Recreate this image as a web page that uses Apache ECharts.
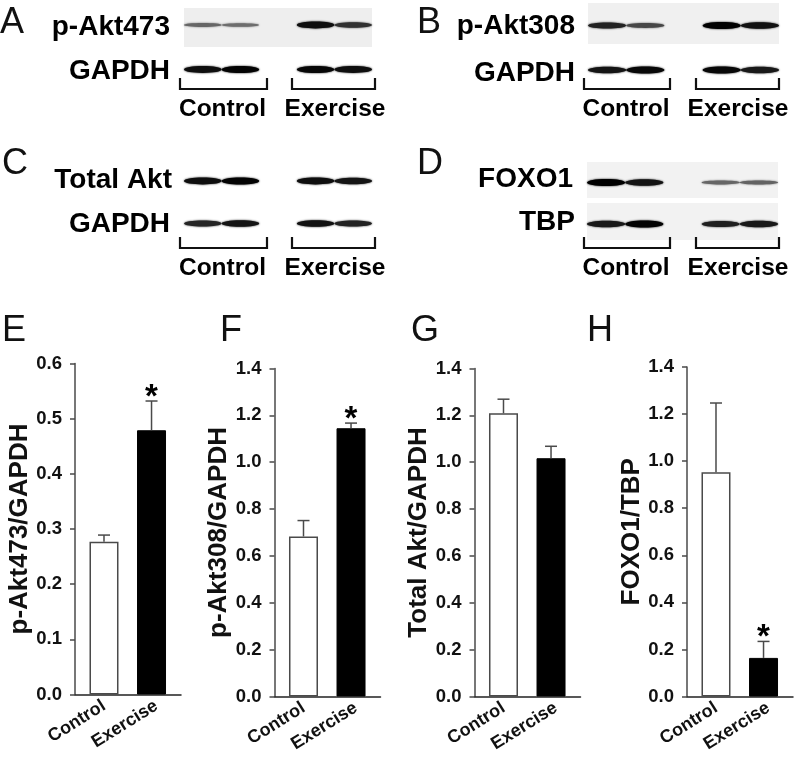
<!DOCTYPE html>
<html>
<head>
<meta charset="utf-8">
<title>Akt and FOXO1 blots</title>
<script src="https://cdn.jsdelivr.net/npm/echarts@6/dist/echarts.min.js"></script>
<style>
html, body { margin: 0; padding: 0; background: #fff; }
#main { width: 796px; height: 757px; }
</style>
</head>
<body>
<div id="main"></div>
<script>
const categories = ["Control", "Exercise"];
const panelLetters = ["A", "B", "C", "D", "E", "F", "G", "H"];

// bar heights and top of the error bars
const pAkt473Means = [0.277, 0.479];
const pAkt473Upper = [0.289, 0.532];
const pAkt308Means = [0.683, 1.145];
const pAkt308Upper = [0.751, 1.167];
const totalAktMeans = [1.209, 1.017];
const totalAktUpper = [1.269, 1.068];
const foxo1Means = [0.953, 0.164];
const foxo1Upper = [1.247, 0.234];

// which bars carry the star
const pAkt473Stars = [false, true];
const pAkt308Stars = [false, true];
const totalAktStars = [false, false];
const foxo1Stars = [false, true];

// band darkness per lane (0 = nothing, 1 = black), estimated
const lanes = [0, 1, 3, 4]; // slot 2 is the empty gap between the groups
const pAkt473Bands = [0.4, 0.36, 0.92, 0.72];
const gapdhABands = [0.92, 0.98, 0.96, 0.92];
const pAkt308Bands = [0.8, 0.58, 1, 0.9];
const gapdhBBands = [0.88, 0.96, 0.96, 0.86];
const totalAktBands = [0.92, 0.98, 0.92, 0.88];
const gapdhCBands = [0.78, 0.88, 0.9, 0.8];
const foxo1Bands = [1, 0.88, 0.4, 0.42];
const tbpBands = [0.86, 0.98, 0.82, 0.86];

const FONT = "Liberation Sans";
const AXIS_COLOR = "#4a4a4a";

// ---- blots
const blotRows = [
  { name: "p-Akt473", bands: pAkt473Bands, left: 184, width: 188, top: 8, height: 39, cy: 25, bg: "#eeeeee", labelX: 170, labelY: 27 },
  { name: "GAPDH", bands: gapdhABands, left: 184, width: 188, top: 56, height: 26, cy: 69.5, labelX: 170, labelY: 71 },
  { name: "p-Akt308", bands: pAkt308Bands, left: 588, width: 191, top: 3, height: 41, cy: 25.5, bg: "#f0f0f0", labelX: 575, labelY: 26 },
  { name: "GAPDH", bands: gapdhBBands, left: 588, width: 191, top: 57, height: 26, cy: 70, labelX: 575, labelY: 73 },
  { name: "Total Akt", bands: totalAktBands, left: 184, width: 188, top: 168, height: 26, cy: 181, labelX: 172, labelY: 180 },
  { name: "GAPDH", bands: gapdhCBands, left: 184, width: 188, top: 211, height: 26, cy: 223.5, labelX: 170, labelY: 224 },
  { name: "FOXO1", bands: foxo1Bands, left: 587, width: 191, top: 162, height: 36, cy: 182.5, bg: "#f2f2f2", labelX: 573, labelY: 179 },
  { name: "TBP", bands: tbpBands, left: 587, width: 191, top: 203, height: 37, cy: 224, bg: "#f2f2f2", labelX: 575, labelY: 222 }
];

function bandGray(v) {
  const g = Math.round(170 * (1 - v));
  return "rgb(" + g + "," + g + "," + g + ")";
}

// ---- bar panels
const barPanels = [
  { name: "p-Akt473/GAPDH", means: pAkt473Means, upper: pAkt473Upper, stars: pAkt473Stars, max: 0.6, step: 0.1, left: 75, width: 106, top: 363.5, height: 331, nameGap: 39 },
  { name: "p-Akt308/GAPDH", means: pAkt308Means, upper: pAkt308Upper, stars: pAkt308Stars, max: 1.4, step: 0.2, left: 274.5, width: 106, top: 368.5, height: 328, nameGap: 40 },
  { name: "Total Akt/GAPDH", means: totalAktMeans, upper: totalAktUpper, stars: totalAktStars, max: 1.4, step: 0.2, left: 474.5, width: 106, top: 368.5, height: 328, nameGap: 42 },
  { name: "FOXO1/TBP", means: foxo1Means, upper: foxo1Upper, stars: foxo1Stars, max: 1.4, step: 0.2, left: 687, width: 106, top: 367, height: 329.5, nameGap: 40 }
];

const grids = [];
const xAxes = [];
const yAxes = [];
const series = [];

blotRows.forEach(function (row) {
  const idx = grids.length;
  grids.push({
    left: row.left, top: row.top, width: row.width, height: row.height,
    show: !!row.bg, backgroundColor: row.bg || "transparent", borderWidth: 0,
    outerBoundsMode: "none"
  });
  xAxes.push({ gridIndex: idx, type: "category", data: ["c1", "c2", "", "e1", "e2"], show: false });
  yAxes.push({ gridIndex: idx, type: "value", min: 0, max: 1, show: false });
  const rowY = 1 - (row.cy - row.top) / row.height;
  series.push({
    type: "custom",
    xAxisIndex: idx,
    yAxisIndex: idx,
    silent: true,
    clip: false,
    data: row.bands.map(function (v, i) { return [lanes[i], v]; }),
    renderItem: function (params, api) {
      const v = api.value(1);
      const pt = api.coord([api.value(0), rowY]);
      const laneWidth = api.size([1, 0])[0];
      const col = bandGray(v);
      return {
        type: "ellipse",
        shape: { cx: pt[0], cy: pt[1], rx: laneWidth * 0.5, ry: 0.8 + 2.8 * v },
        style: { fill: col, shadowBlur: 2, shadowColor: col }
      };
    }
  });
});

barPanels.forEach(function (p) {
  const idx = grids.length;
  grids.push({ left: p.left, top: p.top, width: p.width, height: p.height, outerBoundsMode: "none" });
  xAxes.push({
    gridIndex: idx,
    type: "value",
    min: -0.61,
    max: 1.62,
    splitLine: { show: false },
    axisTick: { show: false },
    axisLine: { lineStyle: { color: "#222", width: 1.5 } },
    axisLabel: {
      // second label sits a little right of its bar in the original
      customValues: [0, 1.1],
      formatter: function (v) { return categories[Math.round(v)]; },
      rotate: 32,
      margin: 10,
      hideOverlap: false,
      color: "#111",
      fontFamily: FONT,
      fontWeight: "bold",
      fontSize: 18
    }
  });
  yAxes.push({
    gridIndex: idx,
    type: "value",
    min: 0,
    max: p.max,
    interval: p.step,
    name: p.name,
    nameLocation: "middle",
    nameRotate: 90,
    nameGap: p.nameGap,
    nameTextStyle: { color: "#111", fontFamily: FONT, fontWeight: "bold", fontSize: 26 },
    splitLine: { show: false },
    axisLine: { show: true, onZero: false, lineStyle: { color: AXIS_COLOR, width: 1.5 } },
    axisTick: { show: true, length: 5, lineStyle: { color: AXIS_COLOR, width: 1.5 } },
    axisLabel: {
      margin: 13,
      color: "#111",
      fontFamily: FONT,
      fontWeight: "bold",
      fontSize: 18.5,
      formatter: function (v) { return v.toFixed(1); }
    }
  });
  series.push({
    type: "bar",
    xAxisIndex: idx,
    yAxisIndex: idx,
    barWidth: 29,
    silent: true,
    data: p.means.map(function (v, i) {
      return {
        value: [i, v],
        itemStyle: i === 0
          ? { color: "#fff", borderColor: AXIS_COLOR, borderWidth: 1.5 }
          : { color: "#000", borderColor: "#000", borderWidth: 1 }
      };
    })
  });
  series.push({
    type: "custom",
    xAxisIndex: idx,
    yAxisIndex: idx,
    silent: true,
    z: 5,
    data: p.means.map(function (v, i) { return [i, v, p.upper[i], p.stars[i] ? 1 : 0]; }),
    renderItem: function (params, api) {
      const base = api.coord([api.value(0), api.value(1)]);
      const top = api.coord([api.value(0), api.value(2)]);
      const lineStyle = { stroke: AXIS_COLOR, lineWidth: 1.5 };
      const kids = [
        { type: "line", shape: { x1: base[0], y1: base[1], x2: top[0], y2: top[1] }, style: lineStyle },
        { type: "line", shape: { x1: top[0] - 6, y1: top[1], x2: top[0] + 6, y2: top[1] }, style: lineStyle }
      ];
      if (api.value(3)) {
        kids.push({
          type: "text",
          style: {
            text: "*", x: top[0], y: top[1] + 13, align: "center", verticalAlign: "bottom",
            fill: "#000", font: "bold 33px " + FONT
          }
        });
      }
      return { type: "group", children: kids };
    }
  });
});

// ---- text and brackets that are not on any axis
const graphicItems = [];

const letterSpots = [[0, 25], [417, 25], [2, 166], [417, 166], [2, 333], [220, 333], [411, 333], [587, 333]];
panelLetters.forEach(function (t, i) {
  graphicItems.push({
    type: "text", left: letterSpots[i][0], top: letterSpots[i][1] - 20,
    style: { text: t, fill: "#111", font: "36px " + FONT }
  });
});

blotRows.forEach(function (row) {
  graphicItems.push({
    type: "text", x: row.labelX, y: row.labelY,
    style: { text: row.name, fill: "#000", font: "bold 28px " + FONT, align: "right", verticalAlign: "middle" }
  });
});

const bracketRows = [
  { y1: 78, y2: 89, labelY: 109, left: [180, 267], right: [292, 375], labelX: [222.5, 335] },
  { y1: 78, y2: 89, labelY: 109, left: [584, 670], right: [696, 779], labelX: [626, 738] },
  { y1: 237, y2: 248, labelY: 268, left: [180, 267], right: [292, 375], labelX: [222.5, 335] },
  { y1: 237, y2: 248, labelY: 268, left: [584, 670], right: [696, 779], labelX: [626, 738] }
];
bracketRows.forEach(function (b) {
  [b.left, b.right].forEach(function (span, i) {
    graphicItems.push({
      type: "polyline",
      shape: { points: [[span[0], b.y1], [span[0], b.y2], [span[1], b.y2], [span[1], b.y1]] },
      style: { stroke: "#111", lineWidth: 2.2, fill: null }
    });
    graphicItems.push({
      type: "text", x: b.labelX[i], y: b.labelY,
      style: { text: categories[i], fill: "#000", font: "bold 24.5px " + FONT, align: "center", verticalAlign: "middle" }
    });
  });
});

const chartInstance = echarts.init(document.getElementById("main"), null, { renderer: "canvas" });
chartInstance.setOption({
  animation: false,
  backgroundColor: "#fff",
  grid: grids,
  xAxis: xAxes,
  yAxis: yAxes,
  series: series,
  graphic: graphicItems
});
</script>
</body>
</html>
